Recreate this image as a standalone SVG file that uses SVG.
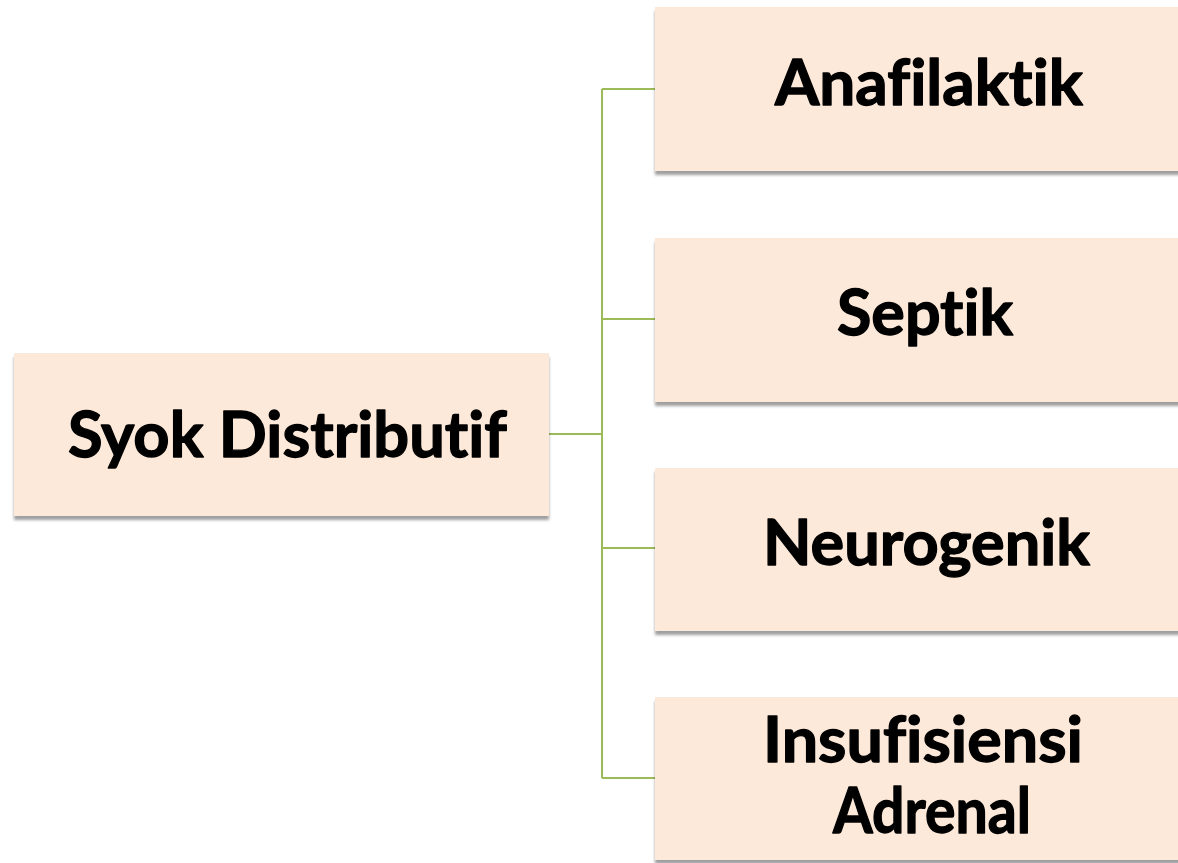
<svg xmlns="http://www.w3.org/2000/svg" width="1178" height="863" viewBox="0 0 1178 863">
  <style>
    .box { fill: #FDE9D9; filter: url(#shadow); }
    .label { font-family: Lato, "Open Sans", "Liberation Sans", sans-serif; font-weight: 700; font-size: 63px; fill: #000; stroke: #000; stroke-width: 1.3; stroke-linejoin: round; text-anchor: middle; font-variant-ligatures: none; font-feature-settings: "liga" 0, "clig" 0, "dlig" 0; }
    .link { fill: none; stroke: #9BBB59; stroke-width: 2; }
  </style>
  <defs>
    <filter id="shadow" x="-5%" y="-10%" width="110%" height="125%">
      <feGaussianBlur in="SourceAlpha" stdDeviation="1.6"/>
      <feOffset dx="0" dy="3.5" result="blur"/>
      <feComponentTransfer>
        <feFuncA type="linear" slope="0.38"/>
      </feComponentTransfer>
      <feMerge>
        <feMergeNode/>
        <feMergeNode in="SourceGraphic"/>
      </feMerge>
    </filter>
  </defs>

  <rect width="1178" height="863" fill="#ffffff"/>

  <!-- connectors: trunk from the root box to the shared vertical spine, then one branch per child -->
  <g id="connectors">
    <path class="link" d="M549 434 H602"/>
    <path class="link" d="M602 89 V778"/>
    <path class="link" d="M602 89 H655"/>
    <path class="link" d="M602 319 H655"/>
    <path class="link" d="M602 548 H655"/>
    <path class="link" d="M602 778 H655"/>
  </g>

  <g id="node-syok-distributif">
    <rect class="box" x="14" y="353" width="535" height="163"/>
    <text class="label" x="287.5" y="457" textLength="439" lengthAdjust="spacingAndGlyphs">Syok Distributif</text>
  </g>

  <g id="node-anafilaktik">
    <rect class="box" x="655" y="7" width="550" height="164"/>
    <text class="label" x="929" y="105" textLength="308" lengthAdjust="spacingAndGlyphs">Anafilaktik</text>
  </g>

  <g id="node-septik">
    <rect class="box" x="655" y="238" width="550" height="164"/>
    <text class="label" x="925" y="335" textLength="176" lengthAdjust="spacingAndGlyphs">Septik</text>
  </g>

  <g id="node-neurogenik">
    <rect class="box" x="655" y="468" width="550" height="163"/>
    <text class="label" x="926.5" y="565" textLength="327" lengthAdjust="spacingAndGlyphs">Neurogenik</text>
  </g>

  <g id="node-insufisiensi-adrenal">
    <rect class="box" x="655" y="697" width="550" height="163"/>
    <text class="label" x="923" y="762" textLength="320" lengthAdjust="spacingAndGlyphs">Insufisiensi</text>
    <text class="label" x="932" y="833" textLength="198" lengthAdjust="spacingAndGlyphs">Adrenal</text>
  </g>
</svg>
